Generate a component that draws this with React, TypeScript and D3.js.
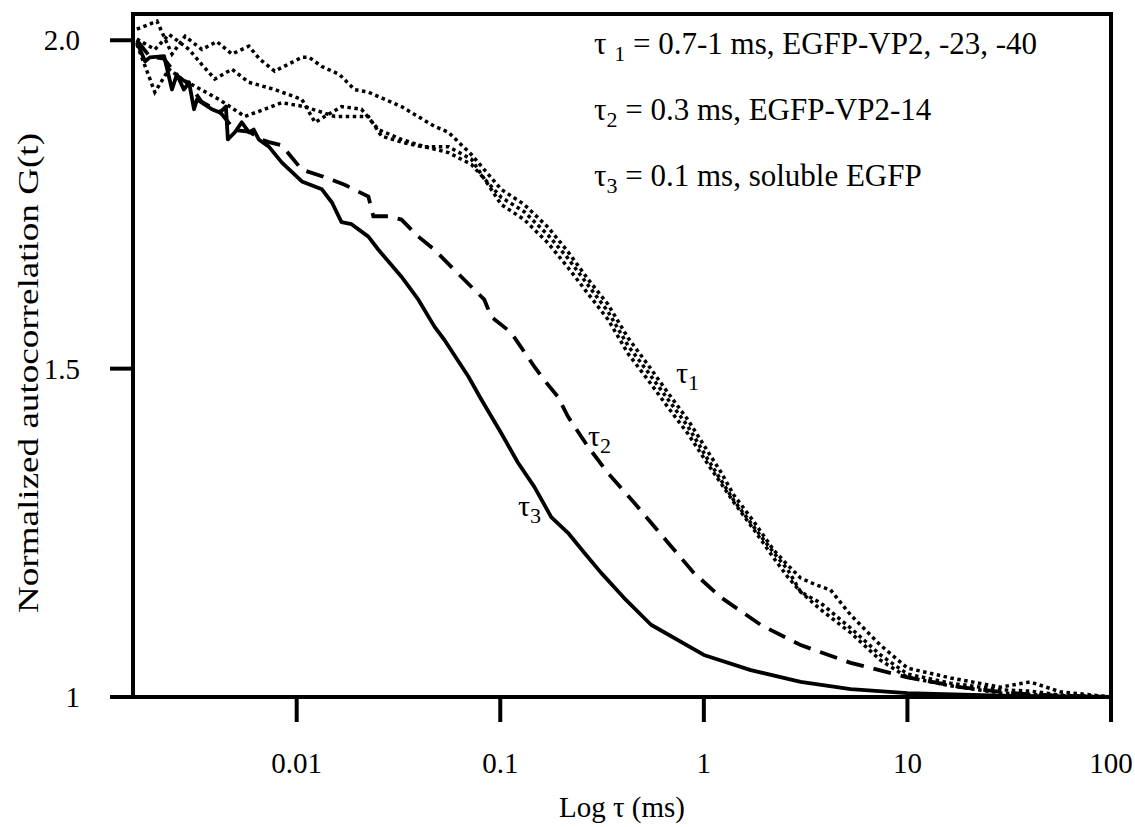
import React from 'react';
import * as d3 from 'd3';

// tau (ms), normalized G
const solidTau3: [number, number][] = [
  [0.00164, 1.997], [0.0018, 1.968], [0.0019, 1.974], [0.00223, 1.976], [0.00244, 1.925],
  [0.00258, 1.948], [0.00279, 1.925], [0.00296, 1.936], [0.00313, 1.895], [0.00324, 1.91],
  [0.00342, 1.905], [0.00383, 1.895], [0.00419, 1.89], [0.00449, 1.899], [0.00459, 1.849],
  [0.00497, 1.86], [0.00537, 1.875], [0.00582, 1.86], [0.00615, 1.864], [0.00651, 1.849],
  [0.0073, 1.838], [0.00844, 1.814], [0.0106, 1.785], [0.0133, 1.773], [0.0149, 1.753],
  [0.0166, 1.723], [0.0186, 1.72], [0.0225, 1.701], [0.0252, 1.681], [0.0327, 1.64],
  [0.0396, 1.605], [0.0475, 1.564], [0.0531, 1.544], [0.0697, 1.488], [0.0807, 1.453],
  [0.101, 1.402], [0.122, 1.357], [0.147, 1.32], [0.178, 1.274], [0.215, 1.25],
  [0.258, 1.22], [0.313, 1.189], [0.405, 1.151], [0.55, 1.11], [1.0, 1.064],
  [1.7, 1.041], [2.99, 1.023], [5.26, 1.012], [10, 1.006], [28.6, 1.002], [100, 1.0],
];

const dashedTau2: [number, number][] = [
  [0.00164, 2.0], [0.0019, 1.975], [0.00223, 1.972], [0.00258, 1.946], [0.00296, 1.933],
  [0.00342, 1.906], [0.00419, 1.891], [0.00497, 1.863], [0.00582, 1.861], [0.0068, 1.848],
  [0.0073, 1.845], [0.00844, 1.84], [0.0106, 1.803], [0.0133, 1.793],
  [0.0172, 1.78], [0.0225, 1.762], [0.0238, 1.732], [0.0282, 1.732], [0.0327, 1.727],
  [0.0396, 1.701], [0.0475, 1.681], [0.0575, 1.655], [0.0835, 1.605], [0.0903, 1.579],
  [0.113, 1.555], [0.147, 1.503], [0.164, 1.483], [0.192, 1.457], [0.215, 1.427],
  [0.27, 1.381], [0.338, 1.341], [0.454, 1.296], [0.667, 1.235], [0.893, 1.189],
  [1.21, 1.152], [1.9, 1.11], [2.99, 1.079], [5.26, 1.052], [10, 1.03],
  [18.2, 1.015], [32, 1.006], [56.2, 1.002], [100, 1.0],
];

const dottedA: [number, number][] = [
  [0.00164, 2.017], [0.00206, 2.029], [0.00244, 1.979], [0.00283, 2.006], [0.00342, 1.986],
  [0.00405, 1.998], [0.0048, 1.979], [0.00582, 1.991], [0.00659, 1.971], [0.0078, 1.953],
  [0.0106, 1.974], [0.0115, 1.974], [0.0133, 1.96], [0.0162, 1.948], [0.0192, 1.925],
  [0.0225, 1.921], [0.0327, 1.899], [0.0475, 1.869], [0.0556, 1.86], [0.0721, 1.826],
  [0.101, 1.773], [0.131, 1.75], [0.172, 1.715], [0.215, 1.678], [0.27, 1.636],
  [0.338, 1.598], [0.424, 1.547], [0.531, 1.506], [0.667, 1.463], [0.835, 1.422],
  [1.05, 1.373], [1.21, 1.343], [1.4, 1.308], [1.76, 1.267], [2.2, 1.224],
  [2.58, 1.201], [2.99, 1.181], [3.54, 1.171], [4.19, 1.163], [5.26, 1.125],
  [7.37, 1.079], [10, 1.044], [16.3, 1.029], [28.6, 1.015], [40.1, 1.023],
  [56.2, 1.008], [100, 1.0],
];

const dottedB: [number, number][] = [
  [0.00164, 2.002], [0.00201, 1.986], [0.00236, 2.009], [0.00296, 1.986], [0.00342, 1.963],
  [0.00396, 1.941], [0.0048, 1.956], [0.00582, 1.936], [0.0078, 1.925], [0.0106, 1.91],
  [0.0123, 1.875], [0.0166, 1.899], [0.0208, 1.895], [0.0252, 1.864], [0.0327, 1.849],
  [0.0424, 1.838], [0.0556, 1.829], [0.0721, 1.811], [0.101, 1.761], [0.131, 1.739],
  [0.172, 1.703], [0.215, 1.668], [0.27, 1.627], [0.338, 1.587], [0.424, 1.535],
  [0.531, 1.495], [0.667, 1.453], [0.835, 1.412], [1.05, 1.361], [1.21, 1.331],
  [1.4, 1.3], [1.76, 1.259], [2.2, 1.22], [2.58, 1.194], [2.99, 1.16],
  [3.75, 1.143], [5.26, 1.105], [7.37, 1.064], [10, 1.035], [16.3, 1.021],
  [28.6, 1.011], [40.1, 1.009], [56.2, 1.003], [100, 1.0],
];

const dottedC: [number, number][] = [
  [0.00164, 1.994], [0.00201, 1.921], [0.00236, 1.956], [0.00273, 1.941], [0.00316, 1.93],
  [0.00415, 1.91], [0.00556, 1.884], [0.00697, 1.895], [0.00844, 1.905], [0.0109, 1.899],
  [0.0154, 1.884], [0.0225, 1.884], [0.0261, 1.854], [0.0327, 1.845], [0.041, 1.838],
  [0.0556, 1.838], [0.0721, 1.819], [0.101, 1.75], [0.131, 1.727], [0.172, 1.691],
  [0.215, 1.654], [0.27, 1.614], [0.338, 1.575], [0.424, 1.523], [0.531, 1.483],
  [0.667, 1.441], [0.835, 1.401], [1.05, 1.354], [1.21, 1.326], [1.4, 1.297],
  [1.76, 1.255], [2.2, 1.212], [2.58, 1.183], [2.99, 1.16], [3.75, 1.133],
  [5.26, 1.098], [7.37, 1.056], [10, 1.03], [16.3, 1.017], [28.6, 1.006],
  [56.2, 1.002], [100, 1.0],
];

const xTickValues = [0.01, 0.1, 1, 10, 100];
const xTickLabels = ['0.01', '0.1', '1', '10', '100'];
const yTickValues = [1, 1.5, 2];
const yTickLabels = ['1', '1.5', '2.0'];

const FONT = '"Liberation Serif", "Times New Roman", serif';

const App: React.FC = () => {
  const width = 1135;
  const height = 827;
  const left = 133, right = 1111, top = 14, bottom = 697;

  const x = d3.scaleLog().domain([0.00157, 100]).range([left, right]);
  const y = d3.scaleLinear().domain([1, 2.04]).range([bottom, top]);

  const line = d3.line<[number, number]>()
    .x(d => x(d[0]))
    .y(d => y(d[1]));

  return (
    <svg width={width} height={height} style={{ position: 'absolute', left: 0, top: 0, background: '#fff' }}
      fontFamily={FONT}>
      <defs>
        <clipPath id="plot">
          <rect x={left} y={top} width={right - left} height={bottom - top} />
        </clipPath>
      </defs>

      <g clipPath="url(#plot)" fill="none" stroke="#000">
        {[dottedA, dottedB, dottedC].map((s, i) => (
          <path key={i} d={line(s) || ''} strokeWidth={3.5} strokeDasharray="3.5 3.5" />
        ))}
        <path d={line(dashedTau2) || ''} strokeWidth={3.8} strokeDasharray="18 10" />
        <path d={line(solidTau3) || ''} strokeWidth={3.8} strokeLinejoin="round" />
      </g>

      {/* frame */}
      <rect x={left} y={top} width={right - left} height={bottom - top} fill="none" stroke="#000" strokeWidth={4} />

      {/* x ticks */}
      {xTickValues.map((v, i) => (
        <g key={v}>
          <line x1={x(v)} x2={x(v)} y1={bottom} y2={bottom + 25} stroke="#000" strokeWidth={4} />
          <text x={x(v)} y={773} textAnchor="middle" fontSize={29}>{xTickLabels[i]}</text>
        </g>
      ))}

      {/* y ticks */}
      {yTickValues.map((v, i) => (
        <g key={v}>
          <line x1={left - 23} x2={left} y1={y(v)} y2={y(v)} stroke="#000" strokeWidth={4} />
          <text x={80} y={y(v) + 10} textAnchor="end" fontSize={29}>{yTickLabels[i]}</text>
        </g>
      ))}

      <text x={622} y={817} textAnchor="middle" fontSize={29}>Log τ (ms)</text>
      <text transform="translate(38,373) rotate(-90)" textAnchor="middle" fontSize={29}
        textLength={480} lengthAdjust="spacingAndGlyphs">
        Normalized autocorrelation G(t)
      </text>

      {/* legend text */}
      <text x={594} y={54} fontSize={31}>
        τ <tspan fontSize={22} dy={7}>1</tspan><tspan dy={-7}> = 0.7-1 ms, EGFP-VP2, -23, -40</tspan>
      </text>
      <text x={594} y={120} fontSize={31}>
        τ<tspan fontSize={22} dy={7}>2</tspan><tspan dy={-7}> = 0.3 ms, EGFP-VP2-14</tspan>
      </text>
      <text x={594} y={186} fontSize={31}>
        τ<tspan fontSize={22} dy={7}>3</tspan><tspan dy={-7}> = 0.1 ms, soluble EGFP</tspan>
      </text>

      {/* curve labels */}
      <text x={676} y={383} fontSize={30}>τ<tspan fontSize={22} dy={7}>1</tspan></text>
      <text x={588} y={446} fontSize={30}>τ<tspan fontSize={22} dy={7}>2</tspan></text>
      <text x={518} y={516} fontSize={30}>τ<tspan fontSize={22} dy={7}>3</tspan></text>
    </svg>
  );
};

export default App;
